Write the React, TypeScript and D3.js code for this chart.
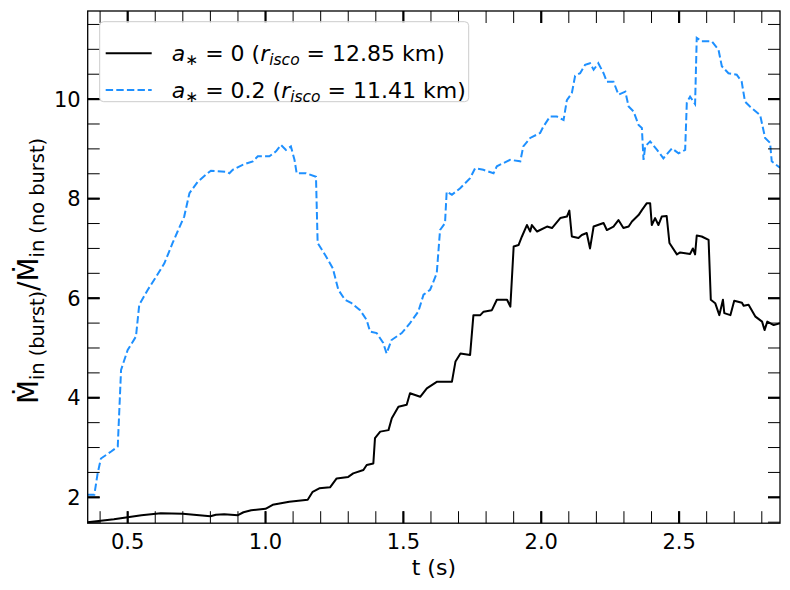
import React from 'react';
import * as d3 from 'd3';

// a* = 0.2 (dashed blue)
const spinTimes = [
    0.355, 0.379, 0.391, 0.403, 0.44, 0.464, 0.476, 0.5, 0.53, 0.542, 0.573, 0.603, 0.633, 0.663, 0.681,
    0.705, 0.724, 0.754, 0.79, 0.802, 0.858, 0.869, 0.881, 0.917, 0.954, 0.972, 1.014, 1.038, 1.056, 1.074,
    1.092, 1.105, 1.113, 1.147, 1.183, 1.189, 1.213, 1.244, 1.264, 1.288, 1.312, 1.343, 1.367, 1.379, 1.403,
    1.427, 1.439, 1.457, 1.494, 1.524, 1.554, 1.573, 1.597, 1.621, 1.633, 1.651, 1.657, 1.676, 1.706, 1.742,
    1.76, 1.79, 1.827, 1.839, 1.887, 1.924, 1.935, 1.96, 1.996, 2.008, 2.032, 2.057, 2.081, 2.093, 2.111,
    2.123, 2.141, 2.159, 2.177, 2.19, 2.207, 2.226, 2.238, 2.262, 2.28, 2.305, 2.317, 2.335, 2.353, 2.365,
    2.371, 2.377, 2.395, 2.42, 2.443, 2.474, 2.498, 2.522, 2.528, 2.54, 2.558, 2.564, 2.582, 2.619, 2.643,
    2.655, 2.679, 2.709, 2.727, 2.739, 2.757, 2.794, 2.812, 2.83, 2.836, 2.866
];
const spinRatio = [
    2.05, 2.05, 2.48, 2.78, 2.92, 3.02, 4.56, 4.96, 5.23, 5.87, 6.17, 6.43, 6.7, 7.11, 7.34,
    7.64, 8.11, 8.34, 8.51, 8.56, 8.54, 8.51, 8.58, 8.68, 8.75, 8.85, 8.85, 8.95, 9.08, 8.98,
    9.05, 8.78, 8.51, 8.51, 8.44, 7.11, 6.9, 6.6, 6.17, 5.97, 5.9, 5.76, 5.56, 5.33, 5.3,
    5.1, 4.89, 5.16, 5.3, 5.5, 5.73, 6.07, 6.17, 6.5, 7.37, 7.51, 8.14, 8.08, 8.21, 8.41,
    8.61, 8.58, 8.51, 8.65, 8.78, 8.75, 9.05, 9.22, 9.32, 9.45, 9.65, 9.65, 9.58, 9.98, 10.12,
    10.47, 10.52, 10.69, 10.72, 10.59, 10.72, 10.52, 10.35, 10.35, 10.09, 10.15, 9.85, 9.75, 9.48, 9.42,
    8.78, 9.05, 9.15, 8.98, 8.81, 9.01, 8.91, 8.98, 9.93, 10.05, 9.9, 11.23, 11.16, 11.16, 10.99,
    10.66, 10.52, 10.49, 10.35, 9.95, 9.85, 9.68, 9.22, 9.12, 8.75, 8.62
];

// a* = 0 (solid black)
const noSpinTimes = [
    0.355, 0.45, 0.55, 0.62, 0.7, 0.8, 0.82, 0.85, 0.9, 0.92, 0.948, 1.0, 1.026, 1.086, 1.153,
    1.171, 1.195, 1.234, 1.258, 1.3, 1.318, 1.355, 1.367, 1.391, 1.397, 1.416, 1.446, 1.458, 1.482, 1.512,
    1.524, 1.561, 1.585, 1.621, 1.676, 1.689, 1.707, 1.742, 1.754, 1.779, 1.791, 1.821, 1.839, 1.876, 1.888,
    1.9, 1.918, 1.93, 1.948, 1.96, 1.966, 1.985, 2.021, 2.039, 2.069, 2.093, 2.102, 2.111, 2.135, 2.147,
    2.165, 2.177, 2.19, 2.226, 2.238, 2.262, 2.28, 2.298, 2.317, 2.329, 2.353, 2.365, 2.383, 2.395, 2.401,
    2.413, 2.425, 2.437, 2.455, 2.465, 2.492, 2.504, 2.54, 2.55, 2.558, 2.564, 2.582, 2.607, 2.615, 2.631,
    2.646, 2.659, 2.664, 2.686, 2.7, 2.728, 2.734, 2.752, 2.777, 2.801, 2.81, 2.82, 2.843, 2.866
];
const noSpinRatio = [
    1.5, 1.56, 1.64, 1.68, 1.67, 1.62, 1.65, 1.66, 1.64, 1.7, 1.74, 1.77, 1.85, 1.91, 1.95,
    2.11, 2.18, 2.2, 2.38, 2.41, 2.48, 2.55, 2.65, 2.68, 3.19, 3.32, 3.35, 3.59, 3.82, 3.86,
    4.09, 4.02, 4.19, 4.32, 4.32, 4.73, 4.89, 4.86, 5.66, 5.66, 5.73, 5.76, 5.97, 5.97, 5.83,
    7.04, 7.07, 7.24, 7.47, 7.34, 7.47, 7.34, 7.44, 7.41, 7.61, 7.64, 7.76, 7.24, 7.21, 7.27,
    7.31, 7.0, 7.44, 7.51, 7.37, 7.44, 7.57, 7.41, 7.44, 7.54, 7.67, 7.77, 7.91, 7.91, 7.47,
    7.61, 7.47, 7.64, 7.65, 7.11, 6.88, 6.92, 6.89, 7.0, 6.88, 7.26, 7.24, 7.17, 5.97, 5.9,
    5.66, 5.97, 5.7, 5.66, 5.95, 5.91, 5.85, 5.87, 5.63, 5.53, 5.36, 5.53, 5.46, 5.5
];

const xLimits = [0.355, 2.866];
const yLimits = [1.48, 11.77];

const FONT = "'DejaVu Sans', sans-serif";
const BLUE = "#1e90ff";

const App: React.FC = () => {
    const width = 790;
    const height = 590;
    const margin = { left: 87.7, right: 10, top: 11, bottom: 66.8 };
    const plotW = width - margin.left - margin.right;
    const plotH = height - margin.top - margin.bottom;

    const xScale = d3.scaleLinear().domain(xLimits).range([0, plotW]);
    const yScale = d3.scaleLinear().domain(yLimits).range([plotH, 0]);

    const xMajor = xScale.ticks(5);
    const xMinor = d3.range(4, 29).map(d => d / 10).filter(d => d >= xLimits[0] && d <= xLimits[1]);
    const yMajor = yScale.ticks(5);
    const yMinor = d3.range(3, 24).map(d => d / 2).filter(d => d >= yLimits[0] && d <= yLimits[1]);

    const line = d3.line<[number, number]>()
        .x(d => xScale(d[0]))
        .y(d => yScale(d[1]));

    const spinPath = line(spinTimes.map((t, i) => [t, spinRatio[i]]));
    const noSpinPath = line(noSpinTimes.map((t, i) => [t, noSpinRatio[i]]));

    const tickLen = 12;

    return (
        <svg width={width} height={height} style={{ position: 'absolute', left: 0, top: 0, background: '#fff' }}
             fontFamily={FONT}>
            <g transform={`translate(${margin.left},${margin.top})`}>
                <defs>
                    <clipPath id="plot-clip">
                        <rect x={0} y={0} width={plotW} height={plotH} />
                    </clipPath>
                </defs>

                <g clipPath="url(#plot-clip)">
                    <path d={noSpinPath || ''} fill="none" stroke="#000" strokeWidth={2} strokeLinejoin="round" />
                    <path d={spinPath || ''} fill="none" stroke={BLUE} strokeWidth={2}
                          strokeDasharray="7.4 3.2" />
                </g>

                {/* minor ticks, all four sides, inward */}
                {xMinor.map(t => (
                    <g key={`xm${t}`} stroke="#000" strokeWidth={1}>
                        <line x1={xScale(t)} x2={xScale(t)} y1={plotH} y2={plotH - tickLen} />
                        <line x1={xScale(t)} x2={xScale(t)} y1={0} y2={tickLen} />
                    </g>
                ))}
                {yMinor.map(v => (
                    <g key={`ym${v}`} stroke="#000" strokeWidth={1}>
                        <line x1={0} x2={tickLen} y1={yScale(v)} y2={yScale(v)} />
                        <line x1={plotW} x2={plotW - tickLen} y1={yScale(v)} y2={yScale(v)} />
                    </g>
                ))}

                {/* major ticks */}
                {xMajor.map(t => (
                    <g key={`xM${t}`}>
                        <line x1={xScale(t)} x2={xScale(t)} y1={plotH} y2={plotH - tickLen} stroke="#000" strokeWidth={2.2} />
                        <line x1={xScale(t)} x2={xScale(t)} y1={0} y2={tickLen} stroke="#000" strokeWidth={2.2} />
                        <text x={xScale(t)} y={plotH + 25.5} textAnchor="middle" fontSize={21}>
                            {d3.format(".1f")(t)}
                        </text>
                    </g>
                ))}
                {yMajor.map(v => (
                    <g key={`yM${v}`}>
                        <line x1={0} x2={tickLen} y1={yScale(v)} y2={yScale(v)} stroke="#000" strokeWidth={2.2} />
                        <line x1={plotW} x2={plotW - tickLen} y1={yScale(v)} y2={yScale(v)} stroke="#000" strokeWidth={2.2} />
                        <text x={-7} y={yScale(v)} dy="0.36em" textAnchor="end" fontSize={21}>
                            {d3.format("d")(v)}
                        </text>
                    </g>
                ))}

                <rect x={0} y={0} width={plotW} height={plotH} fill="none" stroke="#000" strokeWidth={1.3} />

                {/* legend */}
                <g transform="translate(12,10.7)">
                    <rect x={0} y={0} width={369} height={80} rx={4} fill="#fff" fillOpacity={0.8}
                          stroke="#cccccc" strokeWidth={1} />
                    <line x1={6} x2={52} y1={31.5} y2={31.5} stroke="#000" strokeWidth={2} />
                    <line x1={6} x2={52} y1={68.3} y2={68.3} stroke={BLUE} strokeWidth={2} strokeDasharray="7.4 3.2" />
                    <text x={72} y={39} fontSize={22}>
                        <tspan fontStyle="italic">a</tspan>
                        <tspan fontSize={15.5} dy={4.5}>∗</tspan>
                        <tspan dy={-4.5}> = 0 (</tspan>
                        <tspan fontStyle="italic">r</tspan>
                        <tspan fontStyle="italic" fontSize={15.5} dy={4.5}>isco</tspan>
                        <tspan dy={-4.5}> = 12.85 km)</tspan>
                    </text>
                    <text x={72} y={76} fontSize={22}>
                        <tspan fontStyle="italic">a</tspan>
                        <tspan fontSize={15.5} dy={4.5}>∗</tspan>
                        <tspan dy={-4.5}> = 0.2 (</tspan>
                        <tspan fontStyle="italic">r</tspan>
                        <tspan fontStyle="italic" fontSize={15.5} dy={4.5}>isco</tspan>
                        <tspan dy={-4.5}> = 11.41 km)</tspan>
                    </text>
                </g>
            </g>

            {/* axis labels */}
            <text x={margin.left + plotW / 2} y={575} textAnchor="middle" fontSize={22}>t (s)</text>
            <text transform={`translate(38,271) rotate(-90)`} textAnchor="middle">
                <tspan fontSize={27.8}>Ṁ</tspan>
                <tspan fontSize={19.4} dy={6}>in (burst)</tspan>
                <tspan fontSize={27.8} dy={-6}>/</tspan>
                <tspan fontSize={27.8}>Ṁ</tspan>
                <tspan fontSize={19.4} dy={6}>in (no burst)</tspan>
            </text>
        </svg>
    );
};

export default App;
